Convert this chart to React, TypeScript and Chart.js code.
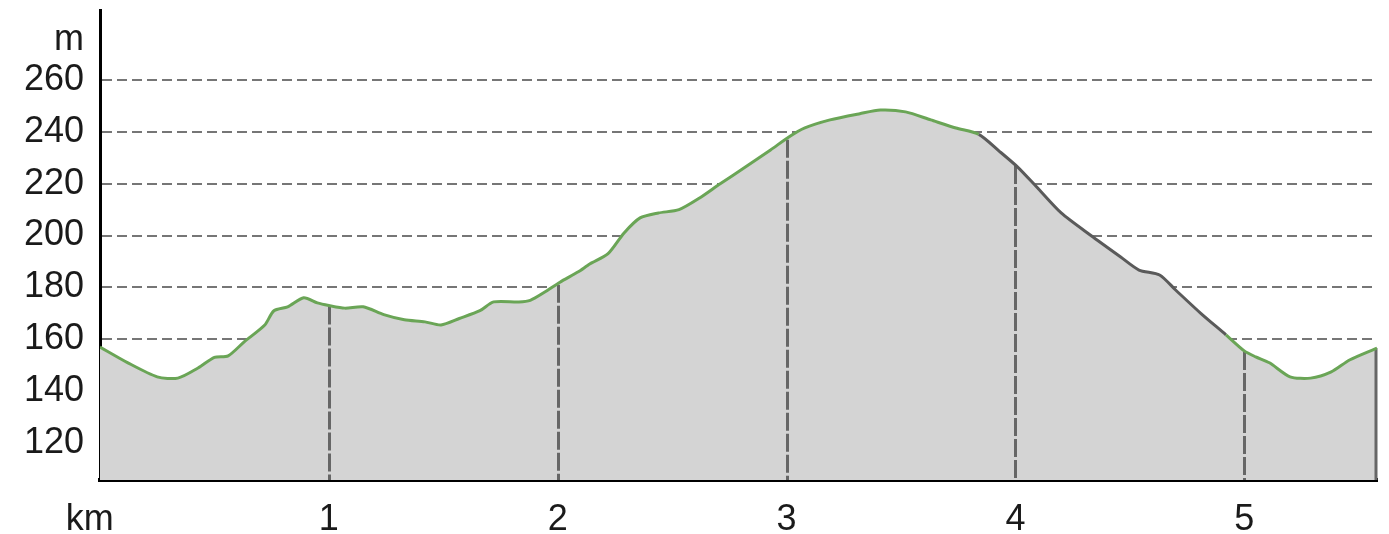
import { useEffect, useRef } from 'react';
import { Chart, registerables } from 'chart.js';

Chart.register(...registerables);

// Distance along the route (km)
const distanceKm = [
  0.0, 0.12, 0.25, 0.34, 0.43, 0.5, 0.56, 0.63, 0.72, 0.76, 0.82, 0.89, 0.95, 1.0,
  1.07, 1.15, 1.24, 1.33, 1.42, 1.49, 1.57, 1.66, 1.72, 1.83, 1.88, 1.94, 2.01, 2.09,
  2.14, 2.22, 2.29, 2.36, 2.44, 2.53, 2.62, 2.71, 2.82, 2.93, 3.01, 3.08, 3.19, 3.32,
  3.41, 3.52, 3.63, 3.74, 3.84, 3.93, 4.01, 4.09, 4.2, 4.33, 4.46, 4.54, 4.63, 4.7,
  4.81, 4.92, 5.0, 5.05, 5.11, 5.2, 5.29, 5.38, 5.46, 5.58,
];

// Elevation (m)
const elevationM = [
  157, 151, 145.5, 145, 149, 153, 153.6, 159, 165.5, 171, 172.5, 176, 174, 173,
  172, 172.5, 169.5, 167.5, 166.7, 165.5, 168, 171, 174.4, 174.4, 175, 178, 182, 186,
  189, 193, 201, 206.8, 208.7, 210, 214.5, 220, 226.4, 233, 238, 241.5, 244.6, 247,
  248.4, 247.7, 244.6, 241.5, 239, 232.5, 226.4, 219, 208.7, 200, 191.7, 186.7, 184.8, 179,
  170, 161.7, 155.5, 153.2, 150.9, 145.5, 145, 147.4, 152, 156.6,
];

const kmTicks = [1, 2, 3, 4, 5];
const kmTickLabels = ['1', '2', '3', '4', '5'];
const elevationTicks = [120, 140, 160, 180, 200, 220, 240, 260];
const unitLabelY = 'm';
const unitLabelX = 'km';
const greySegmentKm = [3.84, 4.92];

const yMin = 105.7;
const yMax = 287;
const unitTickValueY = 275.5;
const unitTickValueX = -0.045;

const FONT = "'Liberation Sans', Arial, sans-serif";
const GREEN = '#6aa556';
const DARK = '#5a5a5a';

function interpElevation(km: number): number {
  for (let i = 0; i < distanceKm.length - 1; i++) {
    const a = distanceKm[i];
    const b = distanceKm[i + 1];
    if (km >= a && km <= b) {
      const t = (km - a) / (b - a);
      return elevationM[i] + t * (elevationM[i + 1] - elevationM[i]);
    }
  }
  return elevationM[elevationM.length - 1];
}

export default function App() {
  const canvasRef = useRef<HTMLCanvasElement>(null);

  useEffect(() => {
    const canvas = canvasRef.current;
    if (!canvas) return;

    const verticalsPlugin = {
      id: 'profileVerticals',
      beforeDatasetDraw(chart: any, args: any) {
        if (args.index !== 1) return;
        const { ctx, chartArea, scales } = chart;
        const x = scales.x;
        const y = scales.y;
        ctx.save();
        ctx.strokeStyle = '#666666';
        ctx.lineWidth = 3;
        ctx.setLineDash([18, 3]);
        kmTicks.forEach((km) => {
          const px = Math.round(x.getPixelForValue(km)) + 0.5;
          const py = y.getPixelForValue(interpElevation(km)) + 1;
          ctx.beginPath();
          ctx.moveTo(px, py);
          ctx.lineTo(px, chartArea.bottom);
          ctx.stroke();
        });
        // right edge of the profile
        ctx.setLineDash([]);
        const lastKm = distanceKm[distanceKm.length - 1];
        const ex = x.getPixelForValue(lastKm) - 1;
        const ey = y.getPixelForValue(elevationM[elevationM.length - 1]);
        ctx.beginPath();
        ctx.moveTo(ex, ey);
        ctx.lineTo(ex, chartArea.bottom);
        ctx.stroke();
        ctx.restore();
      },
    };

    const points = distanceKm.map((d, i) => ({ x: d, y: elevationM[i] }));

    const chart = new Chart(canvas, {
      type: 'line',
      data: {
        datasets: [
          {
            data: points,
            borderWidth: 0,
            borderColor: 'rgba(0,0,0,0)',
            backgroundColor: 'rgb(212,212,212)',
            fill: 'origin',
            pointRadius: 0,
            tension: 0.25,
            order: 2,
          },
          {
            data: points,
            borderColor: GREEN,
            borderWidth: 3,
            fill: false,
            pointRadius: 0,
            tension: 0.25,
            order: 1,
            segment: {
              borderColor: (ctx: any) =>
                ctx.p0.parsed.x >= greySegmentKm[0] && ctx.p1.parsed.x <= greySegmentKm[1]
                  ? DARK
                  : GREEN,
            },
          },
        ],
      },
      options: {
        responsive: false,
        animation: false,
        events: [],
        layout: { padding: { top: 10, right: 12, left: 0, bottom: 0 } },
        plugins: {
          legend: { display: false },
          tooltip: { enabled: false },
          title: { display: false },
        },
        scales: {
          x: {
            type: 'linear',
            min: 0,
            max: distanceKm[distanceKm.length - 1],
            z: 1,
            afterBuildTicks: (scale: any) => {
              scale.ticks = [unitTickValueX, ...kmTicks].map((v) => ({ value: v }));
            },
            afterFit: (scale: any) => {
              scale.height = 54;
              scale.paddingLeft = 0;
              scale.paddingRight = 0;
            },
            ticks: {
              autoSkip: false,
              maxRotation: 0,
              padding: 18,
              color: '#1a1a1a',
              font: { family: FONT, size: 36 },
              callback: (v: any) => {
                if (v === unitTickValueX) return unitLabelX;
                const i = kmTicks.indexOf(v);
                return i >= 0 ? kmTickLabels[i] : '';
              },
            },
            grid: { display: false, drawTicks: false },
            border: { display: true, color: '#000', width: 4 },
          },
          y: {
            type: 'linear',
            min: yMin,
            max: yMax,
            z: 1,
            afterBuildTicks: (scale: any) => {
              scale.ticks = [...elevationTicks, unitTickValueY].map((v) => ({ value: v }));
            },
            afterFit: (scale: any) => {
              scale.width = 100;
              scale.paddingTop = 0;
              scale.paddingBottom = 0;
            },
            ticks: {
              autoSkip: false,
              padding: 16,
              color: '#1a1a1a',
              font: { family: FONT, size: 36 },
              callback: (v: any) => (v === unitTickValueY ? unitLabelY : String(v)),
            },
            grid: {
              drawTicks: false,
              lineWidth: 2,
              color: (ctx: any) =>
                ctx.tick && ctx.tick.value === unitTickValueY ? 'rgba(0,0,0,0)' : '#767676',
            },
            border: { display: true, color: '#000', width: 3, dash: [10, 5] },
          },
        },
      },
      plugins: [verticalsPlugin],
    } as any);

    return () => chart.destroy();
  }, []);

  return (
    <div
      style={{
        position: 'fixed',
        left: 0,
        top: 0,
        width: 1389,
        height: 534,
        background: '#ffffff',
      }}
    >
      <canvas ref={canvasRef} width={1389} height={534} style={{ display: 'block' }} />
    </div>
  );
}
